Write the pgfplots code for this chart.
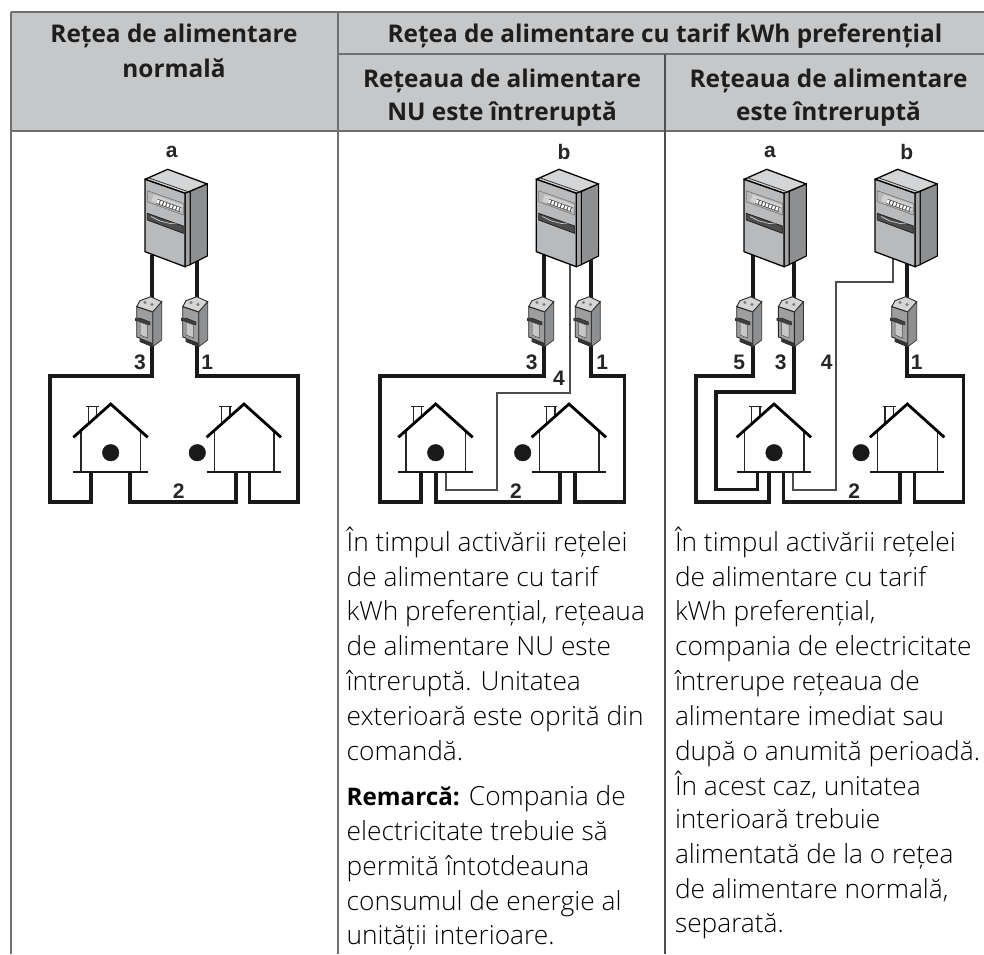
\documentclass[border=0pt]{standalone}
\usepackage{fontspec}
\usepackage{pgfplots}
\pgfplotsset{compat=1.18}
\setmainfont{Open Sans}
\newfontfamily\lightf{Open Sans Light}
\newfontfamily\labfont{Liberation Sans}
\definecolor{hdr}{HTML}{C6C7C8}
\definecolor{rule}{HTML}{6E6F71}
\definecolor{txtc}{HTML}{1E1E1E}
\definecolor{front}{HTML}{B9BABC}
\definecolor{topf}{HTML}{D4D5D6}
\definecolor{strip}{HTML}{A2A3A5}
\definecolor{side}{HTML}{8E8F91}
\newcommand{\body}[3]{\node[anchor=base west,inner sep=0pt,text=black,font=\lightf\fontsize{26.3}{26.3}\selectfont] at (axis cs:#1,#2) {#3};}
\newcommand{\head}[3]{\node[anchor=base,inner sep=0pt,text=txtc,font=\fontsize{24.4}{24.4}\selectfont\bfseries] at (axis cs:#1,#2) {#3};}
\newcommand{\lab}[3]{\node[anchor=center,inner sep=0pt,text=black!85,font=\labfont\fontsize{21}{21}\selectfont\bfseries] at (axis cs:#1,#2) {#3};}
\newcommand{\thickw}[1]{\addplot[black!90,line width=3.6pt,line join=miter] coordinates {#1};}
\newcommand{\thinw}[1]{\addplot[black!70,line width=2pt,line join=miter] coordinates {#1};}
\newcommand{\meter}[1]{%
 \addplot[fill=topf,draw=black,line width=1.3pt,line join=round,xshift=#1pt] coordinates {(145,179.3)(167.7,169.3)(207.3,184)(185,193.3)} --cycle;
 \addplot[black!80,line width=.8pt,xshift=#1pt] coordinates {(148.5,177.8)(189,192)};
 \addplot[fill=side,draw=black,line width=1.1pt,xshift=#1pt] coordinates {(190,191.5)(207.3,184)(207.3,256)(190,264.7)} --cycle;
 \addplot[fill=strip,draw=black,line width=1pt,xshift=#1pt] coordinates {(185,193.3)(190,191.5)(190,264.7)(185,266.7)} --cycle;
 \addplot[fill=front,draw=black,line width=1.3pt,xshift=#1pt] coordinates {(145,179.3)(185,193.3)(185,266.7)(145,251.7)} --cycle;
 \addplot[fill=black!28,draw=black!55,line width=.6pt,xshift=#1pt] coordinates {(147.3,190.7)(183.3,203.3)(183.3,215)(147.3,201.7)} --cycle;
 \addplot[black!18,line width=7pt,xshift=#1pt] coordinates {(152.5,197.8)(182,208.5)};
 \addplot[black!70,line width=5pt,xshift=#1pt] coordinates {(157,201.3)(180.7,209.8)};
 \addplot[white,line width=3.6pt,dash pattern=on 2.3pt off 1.2pt,xshift=#1pt] coordinates {(157,201.3)(180.7,209.8)};
 \addplot[fill=black!70,draw=black!90,line width=.7pt,xshift=#1pt] coordinates {(147.3,213.3)(183.3,226)(183.3,233.3)(147.3,220)} --cycle;
 \addplot[black!20,line width=.7pt,xshift=#1pt] coordinates {(151,216.5)(160,221)(170,223.5)(177,223)};
}
\newcommand{\breaker}[1]{%
 \addplot[fill=topf,draw=black!85,line width=.9pt,xshift=#1pt] coordinates {(140,300.7)(150.7,296.7)(161.7,301.7)(152.7,312)(136.7,306.7)} --cycle;
 \addplot[fill=side,draw=black!80,line width=.7pt,xshift=#1pt] coordinates {(152.7,312)(161.7,302)(161.7,340)(152.7,346.7)} --cycle;
 \addplot[fill=black!38,draw=black!85,line width=.9pt,xshift=#1pt] coordinates {(136.7,306.7)(152.7,312)(152.7,346.7)(140,341.5)(140,338)(136.7,337)} --cycle;
 \addplot[fill=black!75,draw=black!90,line width=.4pt,xshift=#1pt] coordinates {(135.2,318)(140,318)(150,322)(150,325)(140,321.5)(135.2,320.5)} --cycle;
 \addplot[fill=black!22,draw=black!70,line width=.5pt,xshift=#1pt] coordinates {(140,322)(147.5,325)(147.5,338)(140,335)} --cycle;
 \addplot[fill=black!80,draw=none,xshift=#1pt] coordinates {(140,338)(152.7,343)(152.7,346.7)(140,341.5)} --cycle;
 \addplot[black!50,only marks,mark=*,mark size=1.3pt,xshift=#1pt] coordinates {(145,302.5)(152,304.5)};
}
\newcommand{\house}[1]{%
 \addplot[black!85,line width=1.5pt,xshift=#1pt] coordinates {(81,431)(81,472)};
 \addplot[black!85,line width=1.5pt,xshift=#1pt] coordinates {(140.7,431)(140.7,472)};
 \addplot[black!90,line width=1.8pt,xshift=#1pt] coordinates {(73.3,472.3)(147.7,472.3)};
 \addplot[black!85,line width=1.4pt,xshift=#1pt] coordinates {(88.3,425)(88.3,406.3)};
 \addplot[black!85,line width=1.4pt,xshift=#1pt] coordinates {(96.7,417)(96.7,406.3)};
 \addplot[black!85,line width=1.4pt,xshift=#1pt] coordinates {(86,406.3)(99,406.3)};
 \addplot[black,line width=2.8pt,line join=miter,xshift=#1pt] coordinates {(73.3,437.3)(110.7,404)(147.7,437.3)};
}
\newcommand{\twodots}[2]{\addplot[only marks,mark=*,mark size=8.3pt,black!90,mark options={draw=none}] coordinates {(#1,452.7)(#2,452.7)};}
\begin{document}
\begin{tikzpicture}
\begin{axis}[scale only axis,width=984pt,height=954pt,xmin=0,xmax=984,ymin=0,ymax=954,y dir=reverse,hide axis]
% page and header
\addplot[fill=white,draw=none] coordinates {(0,0)(984,0)(984,954)(0,954)} --cycle;
\addplot[fill=hdr,draw=none] coordinates {(11,12)(984,12)(984,131)(11,131)} --cycle;
\addplot[rule,line width=1.6pt] coordinates {(11,12)(984,12)};
\addplot[rule,line width=1.3pt] coordinates {(338,54)(984,54)};
\addplot[rule,line width=2pt] coordinates {(11,131)(984,131)};
\addplot[rule,line width=1.3pt] coordinates {(11,12)(11,954)};
\addplot[rule,line width=1.3pt] coordinates {(338,12)(338,954)};
\addplot[rule!70!black,line width=1.2pt] coordinates {(665,54)(665,954)};
% column 1
\thickw{(152,255)(152,300)}
\thickw{(152,340)(152,376)(50,376)(50,501.7)(91,501.7)(91,473)}
\thickw{(196.7,260)(196.7,300)}
\thickw{(196.7,340)(196.7,376)(297.7,376)(297.7,501.7)(249.3,501.7)(249.3,473)}
\thickw{(130,473)(130,501.7)(235.7,501.7)(235.7,473)}
\house{0}\house{133.3}
\twodots{110.7}{197.3}
\breaker{0}\breaker{46}
\meter{0}
\lab{171.7}{152.3}{a}\lab{140}{362.7}{3}\lab{207.3}{362.7}{1}\lab{178.7}{490.7}{2}
% column 2
\thickw{(544,255)(544,300)}
\thickw{(544,340)(544,376)(380,376)(380,501.7)(421,501.7)(421,473)}
\thickw{(590.7,260)(590.7,300)}
\thickw{(590.7,340)(590.7,376)(624.3,376)(624.3,501.7)(575,501.7)(575,473)}
\thickw{(435.7,473)(435.7,501.7)(560,501.7)(560,473)}
\thinw{(570,262)(570,392.7)(497.3,392.7)(497.3,490)(446,490)(446,473)}
\house{325}\house{458.3}
\twodots{435.7}{522.7}
\breaker{392}\breaker{438.5}
\meter{391.3}
\lab{564}{151.7}{b}\lab{531.7}{362.7}{3}\lab{602.3}{362.7}{1}\lab{559}{378.3}{4}\lab{516}{490.7}{2}
% column 3
\thickw{(752.7,255)(752.7,300)}
\thickw{(752.7,340)(752.7,376)(696,376)(696,501.7)(769,501.7)(769,473)}
\thickw{(794,260)(794,300)}
\thickw{(794,340)(794,391.7)(715.7,391.7)(715.7,489.3)(757.3,489.3)(757.3,473)}
\thickw{(783.3,473)(783.3,501.7)(900,501.7)(900,473)}
\thickw{(906.7,260)(906.7,300)}
\thickw{(906.7,340)(906.7,376)(963.3,376)(963.3,501.7)(914.3,501.7)(914.3,473)}
\thinw{(892.7,258)(892.7,281.7)(835.7,281.7)(835.7,490)(792.7,490)(792.7,473)}
\house{663.3}\house{796.6}
\twodots{774}{861}
\breaker{600}\breaker{641.7}\breaker{755}
\meter{599}\meter{730}
\lab{770}{152}{a}\lab{906.7}{152}{b}\lab{739.3}{362.7}{5}\lab{780.7}{362.7}{3}\lab{826.7}{362.7}{4}\lab{916.7}{362.7}{1}\lab{854.3}{490.7}{2}
% header text
\head{174}{42.7}{Rețea de alimentare}
\head{174}{77.7}{normală}
\head{665}{42.7}{Rețea de alimentare cu tarif kWh preferențial}
\head{502}{87}{Rețeaua de alimentare}
\head{502}{120.7}{NU este întreruptă}
\head{828.5}{87}{Rețeaua de alimentare}
\head{828.5}{120.7}{este întreruptă}
% body text
\body{346.5}{551.7}{În timpul activării rețelei}
\body{346.5}{586}{de alimentare cu tarif}
\body{346.5}{620.7}{kWh preferențial, rețeaua}
\body{346.5}{655.7}{de alimentare NU este}
\body{346.5}{690.7}{întreruptă. Unitatea}
\body{346.5}{725.7}{exterioară este oprită din}
\body{346.5}{760}{comandă.}
\body{346.5}{805.7}{{\normalfont\fontsize{24.2}{24.2}\selectfont\bfseries Remarcă:} Compania de}
\body{346.5}{840.3}{electricitate trebuie să}
\body{346.5}{875}{permită întotdeauna}
\body{346.5}{910}{consumul de energie al}
\body{346.5}{944.7}{unității interioare.}
\body{674.8}{551.7}{În timpul activării rețelei}
\body{674.8}{586}{de alimentare cu tarif}
\body{674.8}{620.7}{kWh preferențial,}
\body{674.8}{655.7}{compania de electricitate}
\body{674.8}{690.7}{întrerupe rețeaua de}
\body{674.8}{725.7}{alimentare imediat sau}
\body{674.8}{760}{după o anumită perioadă.}
\body{674.8}{795}{În acest caz, unitatea}
\body{674.8}{828.3}{interioară trebuie}
\body{674.8}{863.3}{alimentată de la o rețea}
\body{674.8}{898.3}{de alimentare normală,}
\body{674.8}{932.7}{separată.}
\end{axis}
\end{tikzpicture}
\end{document}
